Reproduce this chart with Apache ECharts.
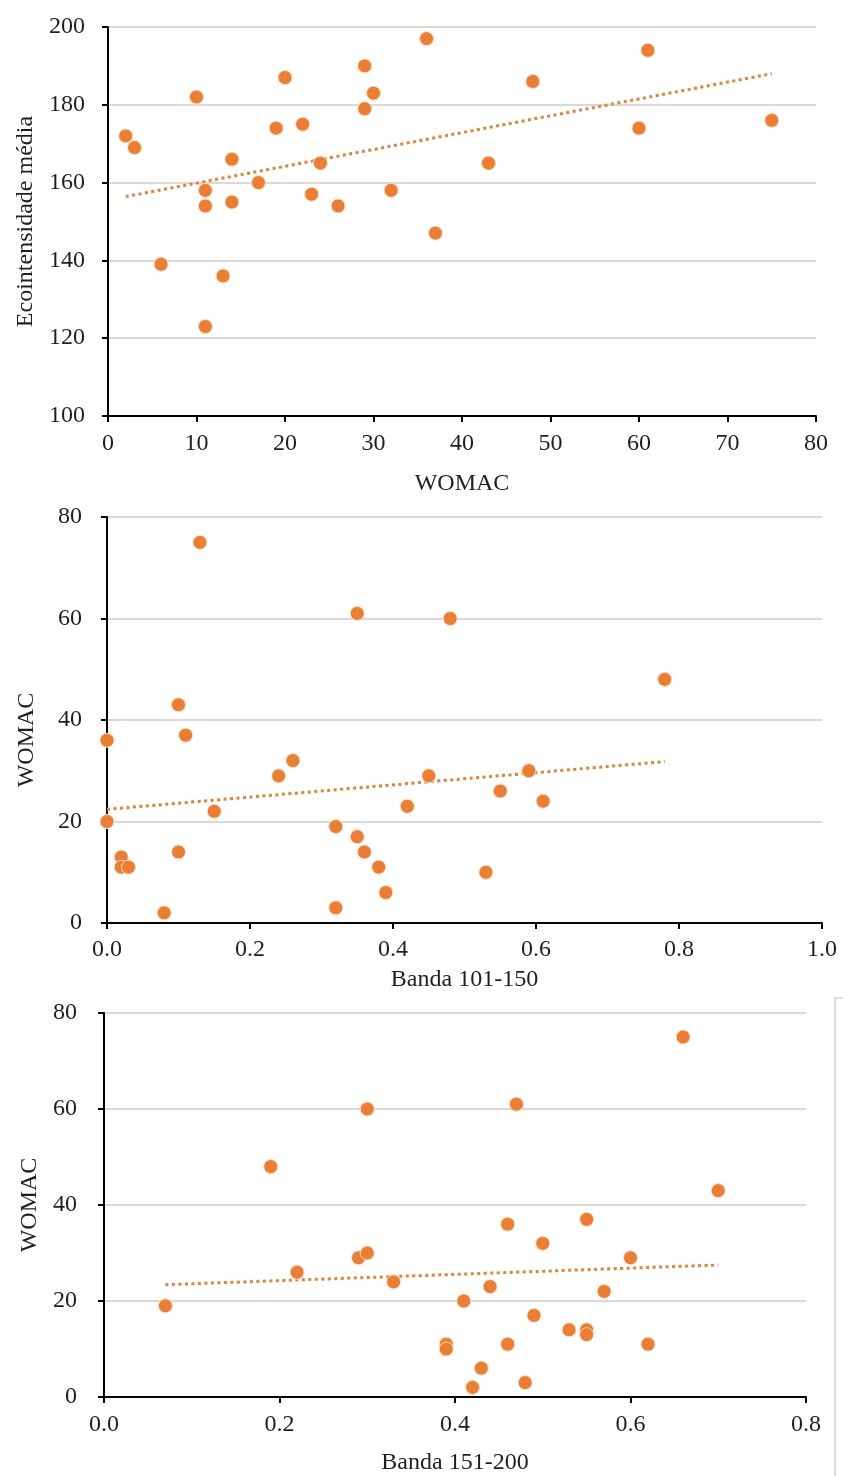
<!DOCTYPE html>
<html>
<head>
<meta charset="utf-8">
<script src="https://cdn.jsdelivr.net/npm/echarts@6/dist/echarts.min.js"></script>
<style>
  html, body { margin: 0; padding: 0; background: #fff; }
  #chart { width: 843px; height: 1476px; }
</style>
</head>
<body>
<div id="chart"></div>
<script>
// panel 1: WOMAC vs Ecointensidade média
const womac1 = [2, 3, 10, 6, 11, 11, 11, 13, 14, 14, 17, 19, 20, 22, 23, 24, 26, 29, 29, 30, 32, 36, 37, 43, 48, 60, 61, 75];
const eco1 = [172, 169, 182, 139, 158, 154, 123, 136, 166, 155, 160, 174, 187, 175, 157, 165, 154, 190, 179, 183, 158, 197, 147, 165, 186, 174, 194, 176];
const trend1 = [[2, 156.4], [75, 188]];

// panel 2: Banda 101-150 vs WOMAC
const banda2 = [0.13, 0.35, 0.48, 0.10, 0.11, 0, 0.24, 0.26, 0.45, 0.15, 0.42, 0, 0.32, 0.35, 0.36, 0.10, 0.02, 0.02, 0.03, 0.38, 0.39, 0.32, 0.08, 0.78, 0.59, 0.55, 0.61, 0.53];
const womac2 = [75, 61, 60, 43, 37, 36, 29, 32, 29, 22, 23, 20, 19, 17, 14, 14, 13, 11, 11, 11, 6, 3, 2, 48, 30, 26, 24, 10];
const trend2 = [[0, 22.4], [0.78, 31.8]];

// panel 3: Banda 151-200 vs WOMAC
const banda3 = [0.07, 0.19, 0.30, 0.22, 0.29, 0.30, 0.33, 0.41, 0.39, 0.39, 0.42, 0.66, 0.47, 0.70, 0.46, 0.55, 0.50, 0.60, 0.44, 0.57, 0.49, 0.53, 0.55, 0.55, 0.46, 0.62, 0.43, 0.48];
const womac3 = [19, 48, 60, 26, 29, 30, 24, 20, 11, 10, 2, 75, 61, 43, 36, 37, 32, 29, 23, 22, 17, 14, 14, 13, 11, 11, 6, 3];
const trend3 = [[0.07, 23.4], [0.70, 27.5]];

const orange = "#ED7D31";
const serif = "'Liberation Serif', 'DejaVu Serif', serif";
const textColor = "#1f1f1f";

function xAxisOf(gridIndex, opts) {
  return {
    gridIndex,
    type: "value",
    min: opts.min,
    max: opts.max,
    interval: opts.interval,
    name: opts.name,
    nameLocation: "middle",
    nameGap: opts.nameGap,
    nameTextStyle: { fontFamily: serif, fontSize: 24, color: textColor },
    axisLine: { show: true, onZero: false, lineStyle: { color: "#000", width: 2 } },
    axisTick: { show: true, inside: false, length: 6, lineStyle: { color: "#000", width: 2 } },
    axisLabel: {
      fontFamily: serif, fontSize: 24, color: textColor, margin: opts.labelMargin,
      formatter: opts.formatter,
    },
    splitLine: { show: false },
  };
}

function yAxisOf(gridIndex, opts) {
  return {
    gridIndex,
    type: "value",
    min: opts.min,
    max: opts.max,
    interval: opts.interval,
    name: opts.name,
    nameLocation: "middle",
    nameGap: opts.nameGap,
    nameRotate: 90,
    nameTextStyle: { fontFamily: serif, fontSize: 24, color: textColor, padding: opts.namePadding || 0 },
    axisLine: { show: true, onZero: false, lineStyle: { color: "#000", width: 2 } },
    axisTick: { show: true, inside: false, length: 6, lineStyle: { color: "#000", width: 2 } },
    axisLabel: { fontFamily: serif, fontSize: 24, color: textColor, margin: opts.labelMargin },
    splitLine: { show: true, lineStyle: { color: "#D9D9D9", width: 2 } },
  };
}

function scatterOf(idx, xs, ys) {
  return {
    type: "scatter",
    xAxisIndex: idx,
    yAxisIndex: idx,
    symbolSize: 14,
    clip: false,
    itemStyle: { color: orange, opacity: 1, borderColor: "#FBE0CC", borderWidth: 1 },
    data: xs.map((x, i) => [x, ys[i]]),
    z: 3,
  };
}

function trendOf(idx, pts) {
  return {
    type: "line",
    xAxisIndex: idx,
    yAxisIndex: idx,
    showSymbol: false,
    silent: true,
    lineStyle: { color: orange, width: 3, type: [3, 3.5] },
    data: pts,
    z: 2,
  };
}

const chart = echarts.init(document.getElementById("chart"));
chart.setOption({
  animation: false,
  backgroundColor: "#fff",
  grid: [
    { left: 108, top: 27, width: 708, height: 389 },
    { left: 107, top: 517, width: 715, height: 406 },
    { left: 104, top: 1013, width: 702, height: 386 },
  ],
  xAxis: [
    xAxisOf(0, { min: 0, max: 80, interval: 10, name: "WOMAC", nameGap: 56, labelMargin: 16 }),
    xAxisOf(1, { min: 0, max: 1, interval: 0.2, name: "Banda 101-150", nameGap: 45, labelMargin: 15,
      formatter: (v) => v.toFixed(1) }),
    xAxisOf(2, { min: 0, max: 0.8, interval: 0.2, name: "Banda 151-200", nameGap: 54, labelMargin: 16,
      formatter: (v) => v.toFixed(1) }),
  ],
  yAxis: [
    yAxisOf(0, { min: 100, max: 200, interval: 20, name: "Ecointensidade média", nameGap: 68, labelMargin: 23 }),
    yAxisOf(1, { min: 0, max: 80, interval: 20, name: "WOMAC", nameGap: 68, labelMargin: 25, namePadding: [0, 40, 0, 0] }),
    yAxisOf(2, { min: 0, max: 80, interval: 20, name: "WOMAC", nameGap: 57, labelMargin: 27 }),
  ],
  series: [
    scatterOf(0, womac1, eco1),
    trendOf(0, trend1),
    scatterOf(1, banda2, womac2),
    trendOf(1, trend2),
    scatterOf(2, banda3, womac3),
    trendOf(2, trend3),
  ],
  graphic: [
    {
      type: "polyline",
      silent: true,
      shape: { points: [[843, 998], [835, 998], [835, 1476]] },
      style: { stroke: "#CFCFCF", lineWidth: 1.5, fill: null },
    },
  ],
});
window.addEventListener("resize", () => chart.resize());
</script>
</body>
</html>
